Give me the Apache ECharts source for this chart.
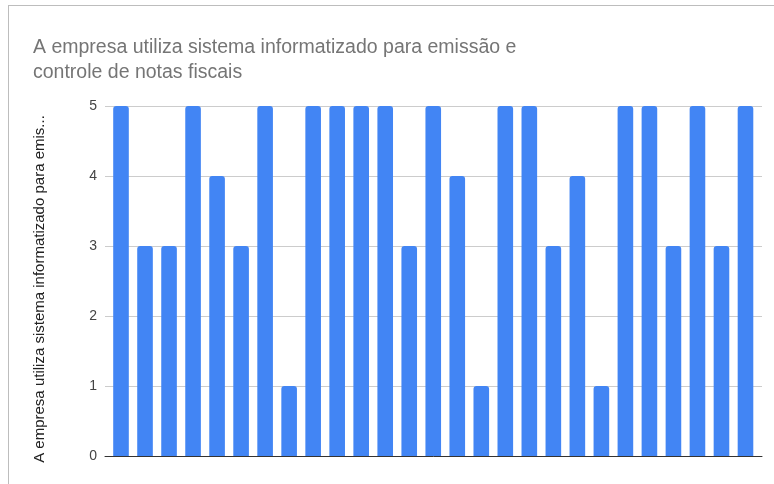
<!DOCTYPE html>
<html><head><meta charset="utf-8">
<script src="https://cdn.jsdelivr.net/npm/echarts@6/dist/echarts.min.js"></script>
<style>html,body{margin:0;padding:0;background:#fff}#c{width:774px;height:484px}</style>
</head><body><div id="c"></div>
<script>
const titleText = "A empresa utiliza sistema informatizado para emissão e\ncontrole de notas fiscais";
const yAxisName = "A empresa utiliza sistema informatizado para emis...";
const categories = ["1","2","3","4","5","6","7","8","9","10","11","12","13","14","15","16","17","18","19","20","21","22","23","24","25","26","27"];
const values = [5,3,3,5,4,3,5,1,5,5,5,5,3,5,4,1,5,5,3,4,1,5,5,3,5,3,5];
const yTicks = [0,1,2,3,4,5];

const chart = echarts.init(document.getElementById('c'), null, {renderer:'canvas'});
chart.setOption({
  animation:false,
  backgroundColor:'#fff',
  title:{text:titleText,left:28,top:30,textStyle:{fontFamily:'Liberation Sans',fontSize:19.5,fontWeight:'normal',color:'#757575',lineHeight:25}},
  graphic:[
    {type:'line',shape:{x1:8,y1:5.5,x2:774,y2:5.5},style:{stroke:'#bdbdbd',lineWidth:1}},
    {type:'line',shape:{x1:8.5,y1:5,x2:8.5,y2:484},style:{stroke:'#bdbdbd',lineWidth:1}}
  ],
  grid:[
    {left:105,right:12,top:106,bottom:28,containLabel:false},
    {left:109,right:16.5,top:106,bottom:28,containLabel:false}
  ],
  xAxis:[
    {type:'category',gridIndex:0,data:categories,axisLabel:{show:false},axisTick:{show:false},
      axisLine:{lineStyle:{color:'#333',width:1}},z:5},
    {type:'category',gridIndex:1,data:categories,axisLabel:{show:false},axisTick:{show:false},axisLine:{show:false}}
  ],
  yAxis:[
    {type:'value',gridIndex:0,min:yTicks[0],max:yTicks[yTicks.length-1],interval:1,
      name:yAxisName,nameLocation:'middle',nameRotate:90,nameGap:58,
      nameTextStyle:{fontFamily:'Liberation Sans',fontSize:15,color:'#222',padding:[0,16,0,0]},
      axisLabel:{fontFamily:'Liberation Sans',fontSize:14,color:'#444',margin:8},
      splitLine:{lineStyle:{color:'#ccc'}},axisLine:{show:false},axisTick:{show:false}},
    {type:'value',gridIndex:1,min:yTicks[0],max:yTicks[yTicks.length-1],interval:1,
      axisLabel:{show:false},splitLine:{show:false},axisLine:{show:false},axisTick:{show:false}}
  ],
  series:[{type:'bar',xAxisIndex:1,yAxisIndex:1,data:values,barCategoryGap:'35%',itemStyle:{color:'#4285f4',borderRadius:[3,3,0,0]}}]
});
</script></body></html>
